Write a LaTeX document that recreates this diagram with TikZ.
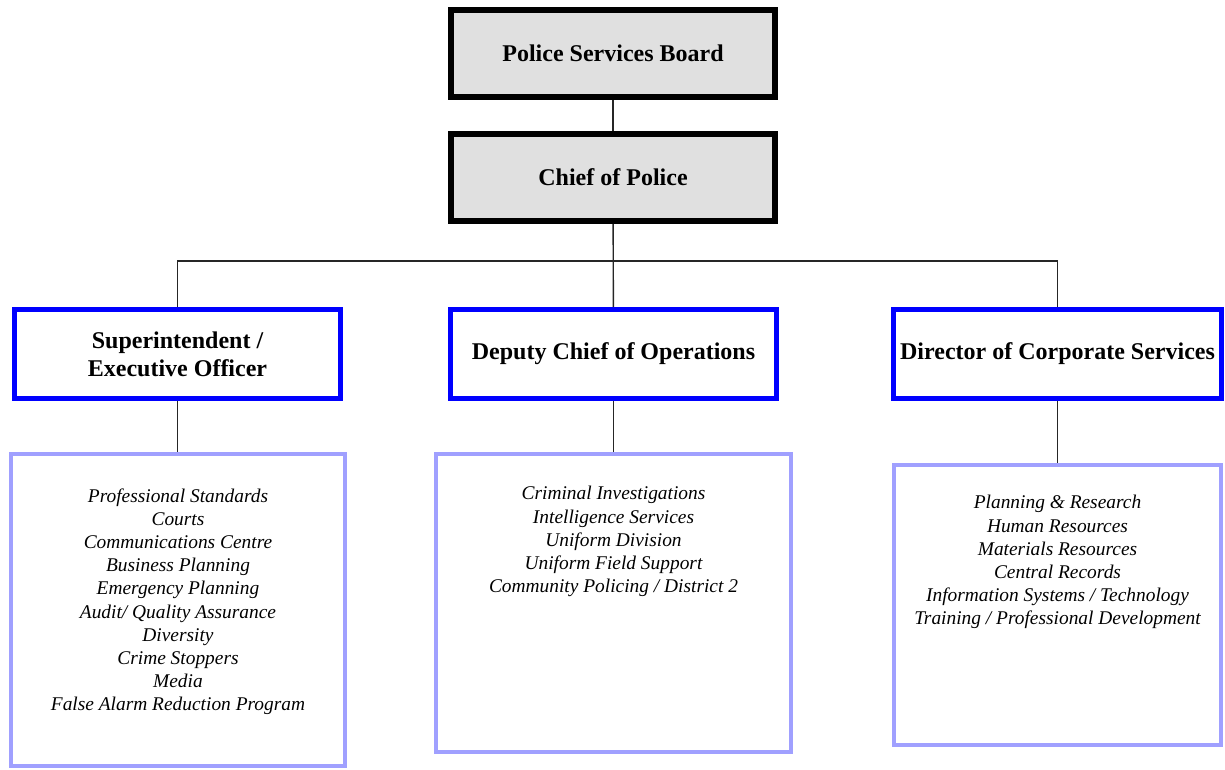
\documentclass[tikz,border=0pt]{standalone}
\usepackage{fontspec}
\setmainfont{Liberation Serif}
\usetikzlibrary{calc}

\definecolor{boardgray}{HTML}{E0E0E0}
\definecolor{headblue}{HTML}{0000FF}
\definecolor{unitblue}{HTML}{A0A0FF}

\begin{document}
\begin{tikzpicture}[x=0.5pt,y=-0.5pt,
	top/.style={shape=rectangle,draw=black,line width=3pt,fill=boardgray,minimum width=162pt,minimum height=43.5pt,font=\fontsize{12}{14}\selectfont\bfseries},
	head/.style={shape=rectangle,draw=headblue,line width=2.5pt,minimum width=163pt,minimum height=44.5pt,align=center,font=\fontsize{12}{14}\selectfont\bfseries},
	units/.style={shape=rectangle,draw=unitblue,line width=2pt},
	list/.style={anchor=north,inner sep=0pt,align=center,font=\fontsize{9.7}{11.6}\selectfont\itshape},
	link/.style={draw=black!85,line width=0.7pt}]
	
	\useasboundingbox (0,0) rectangle (1225,770);
	
	\node[top] (board) at (613, 53.5)     {Police Services Board};
	\node[top] (chief) at (613, 177.5)    {Chief of Police};
	
	\node[head] (sup) at (177.5, 354)     {Superintendent /\\Executive Officer};
	\node[head] (dep) at (613.5, 354)     {Deputy Chief of Operations};
	\node[head] (dir) at (1057.5, 354)    {Director of Corporate Services};
	
	\node[units,minimum width=167pt,minimum height=156pt] (supbox) at (178, 610)      {};
	\node[units,minimum width=177.5pt,minimum height=149pt] (depbox) at (613.5, 603)  {};
	\node[units,minimum width=163.5pt,minimum height=140pt] (dirbox) at (1057.5, 605) {};
	
	\node[list] (suplist) at (178, 488)    {Professional Standards\\Courts\\Communications Centre\\Business Planning\\Emergency Planning\\Audit/ Quality Assurance\\Diversity\\Crime Stoppers\\Media\\False Alarm Reduction Program};
	\node[list] (deplist) at (613.5, 486)  {Criminal Investigations\\Intelligence Services\\Uniform Division\\Uniform Field Support\\Community Policing / District 2};
	\node[list] (dirlist) at (1057.5, 495) {Planning \& Research\\Human Resources\\Materials Resources\\Central Records\\Information Systems / Technology\\Training / Professional Development};
	
	\coordinate (bus) at (613, 261);
	
	\path[link] (board) edge (chief);
	\path[link] (chief) edge (dep);
	\draw[link] (sup.north) |- (bus) -| (dir.north);
	\path[link] (sup.south) edge (sup.south |- supbox.north);
	\path[link] (dep) edge (depbox);
	\path[link] (dir) edge (dirbox);
	
\end{tikzpicture}
\end{document}
